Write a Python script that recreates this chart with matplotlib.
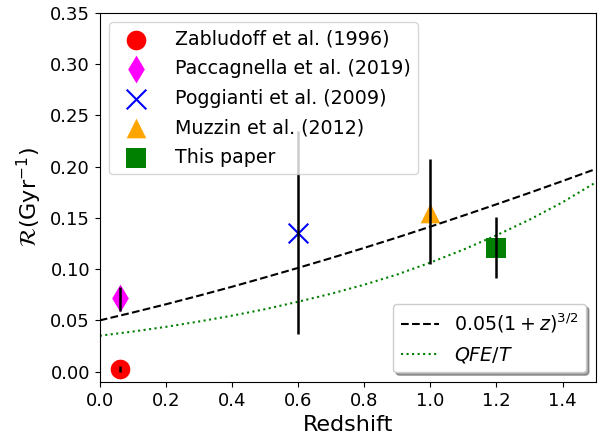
import matplotlib
matplotlib.use("Agg")
import matplotlib.pyplot as plt

# observed rates
labels = ["Zabludoff et al. (1996)", "Paccagnella et al. (2019)",
          "Poggianti et al. (2009)", "Muzzin et al. (2012)", "This paper"]
z_obs = [0.06, 0.06, 0.6, 1.0, 1.2]
rate_obs = [0.003, 0.072, 0.135, 0.155, 0.121]
err_lo = [0.003, 0.013, 0.098, 0.050, 0.030]
err_hi = [0.003, 0.011, 0.100, 0.052, 0.030]
markers = ["o", "d", "x", "^", "s"]
colors = ["red", "magenta", "blue", "orange", "green"]

# model curves
z_curve = [0.0, 0.1, 0.2, 0.3, 0.4, 0.5, 0.6, 0.7, 0.8, 0.9,
           1.0, 1.1, 1.2, 1.3, 1.4, 1.5]
rate_pow = [0.050, 0.0577, 0.0657, 0.0741, 0.0828, 0.0919, 0.1012, 0.1108,
            0.1207, 0.1309, 0.1414, 0.1522, 0.1632, 0.1744, 0.1859, 0.1976]
rate_qfe = [0.035, 0.0391, 0.0437, 0.0489, 0.0546, 0.0609, 0.0682, 0.0760,
            0.0848, 0.0948, 0.1064, 0.1190, 0.1330, 0.1482, 0.1652, 0.1845]

fig = plt.figure(figsize=(6.01, 4.41), dpi=100)
ax = fig.add_axes([0.166, 0.134, 0.825, 0.837])

handles = []
for i in range(len(labels)):
    h = ax.scatter(z_obs[i], rate_obs[i], marker=markers[i], c=colors[i],
                   s=200, label=labels[i], zorder=2,
                   linewidths=1.5 if markers[i] == "x" else 0)
    handles.append(h)
ax.errorbar(z_obs, rate_obs, yerr=[err_lo, err_hi], fmt="none",
            ecolor="black", elinewidth=1.8, zorder=3)

l1, = ax.plot(z_curve, rate_pow, "k--", lw=1.5, label=r"$0.05(1+z)^{3/2}$")
l2, = ax.plot(z_curve, rate_qfe, ":", color="green", lw=1.5,
              label=r"$QFE/T$")

leg1 = ax.legend(handles=handles, loc="upper left", fontsize=13.7,
                 handletextpad=1.05, labelspacing=0.55)
ax.add_artist(leg1)
ax.legend(handles=[l1, l2], loc="lower right", fontsize=13.7, shadow=True,
          labelspacing=0.5)

ax.set_xlim(0, 1.5)
ax.set_ylim(-0.01, 0.35)
ax.set_xticks([0.0, 0.2, 0.4, 0.6, 0.8, 1.0, 1.2, 1.4])
ax.set_yticks([0.0, 0.05, 0.10, 0.15, 0.20, 0.25, 0.30, 0.35])
ax.tick_params(labelsize=13)
ax.set_xlabel("Redshift", fontsize=16)
ax.set_ylabel(r"$\mathcal{R}(\mathrm{Gyr}^{-1})$", fontsize=16)

fig.savefig("out.png", dpi=100)
